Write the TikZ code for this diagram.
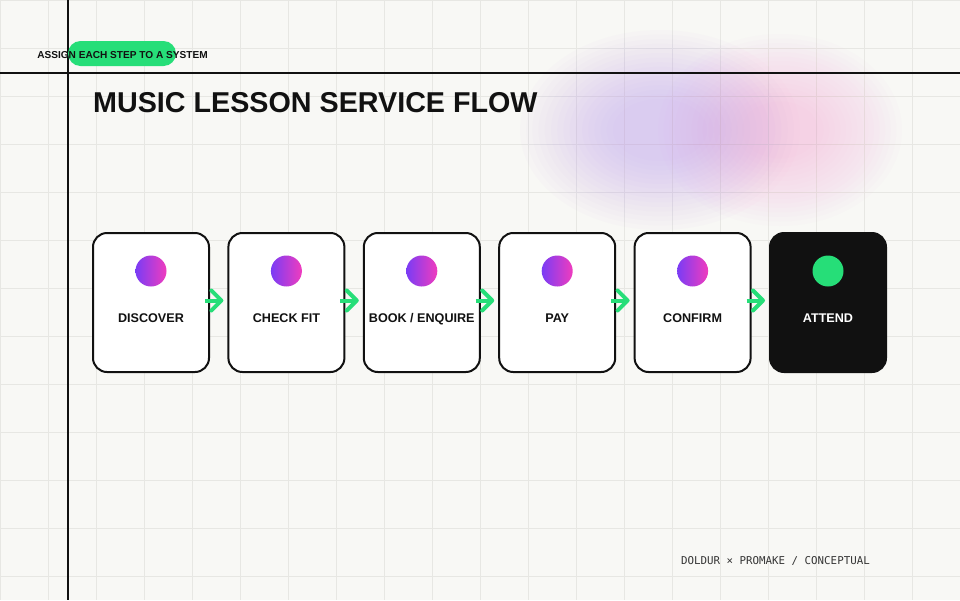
\documentclass[tikz,border=0pt]{standalone}
\usepackage{fontspec}
\setmainfont{Liberation Sans}
\newfontfamily\footmono{DejaVu Sans Mono}
\usetikzlibrary{arrows.meta}
\definecolor{bg}{HTML}{F8F8F5}
\definecolor{gridc}{HTML}{E7E7E3}
\definecolor{ink}{HTML}{111111}
\definecolor{mint}{HTML}{26DE78}
\definecolor{dotA}{HTML}{7A3CF5}
\definecolor{dotB}{HTML}{F03CBE}
\definecolor{blobA}{RGB}{190,152,240}
\definecolor{blobB}{RGB}{245,160,215}
\tikzset{
  gridline/.style={draw=gridc, line width=0.8pt},
  axisline/.style={draw=ink, line width=2pt},
  stepbox/.style={draw=ink, fill=white, line width=2pt, rounded corners=14pt, minimum width=116pt, minimum height=139pt, outer sep=0pt, inner sep=0pt},
  endbox/.style={stepbox, fill=ink},
  dot/.style={circle, minimum size=31pt, inner sep=0pt, left color=dotA, right color=dotB},
  enddot/.style={circle, minimum size=31pt, inner sep=0pt, fill=mint},
  steplabel/.style={anchor=base, inner sep=0pt, text=ink, font=\fontsize{12.6}{14}\selectfont\bfseries},
  endlabel/.style={steplabel, text=white},
  flow/.style={draw=mint, line width=4pt, -{Straight Barb[round,length=10pt,width=20pt]}},
  pill/.style={fill=mint, rounded corners=12.5pt, minimum width=108pt, minimum height=25pt, inner sep=0pt},
  blobp/.style={fill=blobA, fill opacity=0.032},
  blobq/.style={fill=blobB, fill opacity=0.028},
}
\begin{document}
\begin{tikzpicture}[x=1pt,y=-1pt]
\useasboundingbox (0,0) rectangle (960,600);
\fill[bg] (0,0) rectangle (960,600);
% grid
\foreach \x in {0,48,...,960} \draw[gridline] (\x,0) -- (\x,600);
\foreach \y in {0,48,...,600} \draw[gridline] (0,\y) -- (960,\y);
% blurred blob: stacked translucent ellipses
\foreach \i in {0,...,15} {
  \fill[blobp] (660,130) ellipse [x radius={140-\i*6.2}, y radius={100-\i*4.6}];
  \fill[blobq] (780,130) ellipse [x radius={122-\i*5.6}, y radius={96-\i*4.5}];
}
% frame lines
\draw[axisline] (68,0) -- (68,600);
\draw[axisline] (0,73) -- (960,73);
% pill
\node[pill] (pill) at (122,53.5) {};
\node[anchor=base, inner sep=0pt, text=ink, font=\fontsize{10.1}{12}\selectfont\bfseries] (pilltext) at (122.5,58) {ASSIGN EACH STEP TO A SYSTEM};
% title
\node[anchor=base west, inner sep=0pt, text=ink, font=\fontsize{28.7}{32}\selectfont\bfseries] (title) at (93,112) {MUSIC LESSON SERVICE FLOW};
% boxes
\node[stepbox] (b1) at (151,302.5) {};
\node[stepbox] (b2) at (286.4,302.5) {};
\node[stepbox] (b3) at (421.8,302.5) {};
\node[stepbox] (b4) at (557.2,302.5) {};
\node[stepbox] (b5) at (692.6,302.5) {};
\node[endbox] (b6) at (828,302.5) {};
% dots
\node[dot] (d1) at ([yshift=31.5pt]b1.center) {};
\node[dot] (d2) at ([yshift=31.5pt]b2.center) {};
\node[dot] (d3) at ([yshift=31.5pt]b3.center) {};
\node[dot] (d4) at ([yshift=31.5pt]b4.center) {};
\node[dot] (d5) at ([yshift=31.5pt]b5.center) {};
\node[enddot] (d6) at ([yshift=31.5pt]b6.center) {};
% labels
\node[steplabel] (l1) at ([yshift=-19.5pt]b1.center) {DISCOVER};
\node[steplabel] (l2) at ([yshift=-19.5pt]b2.center) {CHECK FIT};
\node[steplabel] (l3) at ([yshift=-19.5pt]b3.center) {BOOK / ENQUIRE};
\node[steplabel] (l4) at ([yshift=-19.5pt]b4.center) {PAY};
\node[steplabel] (l5) at ([yshift=-19.5pt]b5.center) {CONFIRM};
\node[endlabel] (l6) at ([yshift=-19.5pt]b6.center) {ATTEND};
% arrows
\draw[flow] ([xshift=-4pt,yshift=2pt]b1.east) -- ([xshift=-5pt,yshift=2pt]b2.west);
\draw[flow] ([xshift=-4pt,yshift=2pt]b2.east) -- ([xshift=-5pt,yshift=2pt]b3.west);
\draw[flow] ([xshift=-4pt,yshift=2pt]b3.east) -- ([xshift=-5pt,yshift=2pt]b4.west);
\draw[flow] ([xshift=-4pt,yshift=2pt]b4.east) -- ([xshift=-5pt,yshift=2pt]b5.west);
\draw[flow] ([xshift=-4pt,yshift=2pt]b5.east) -- ([xshift=-5pt,yshift=2pt]b6.west);
% footer
\node[anchor=base west, inner sep=0pt, text=ink!85, font=\footmono\fontsize{10.8}{12}\selectfont] (footer) at (681,564.5) {DOLDUR × PROMAKE / CONCEPTUAL};
\end{tikzpicture}
\end{document}
